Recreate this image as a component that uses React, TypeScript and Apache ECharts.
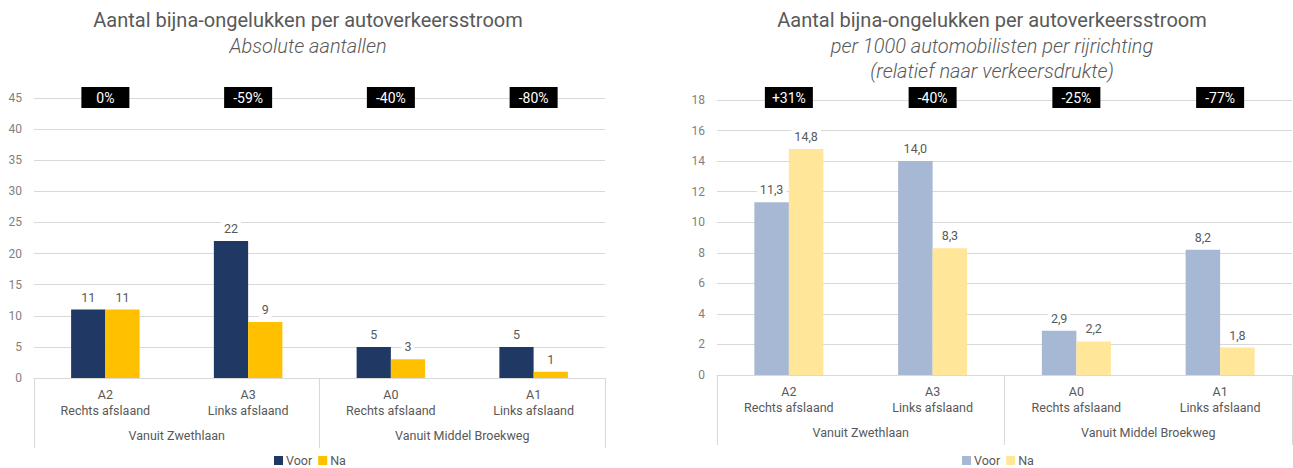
import React, { useEffect, useRef } from "react";
import * as echarts from "echarts";

const categories = [
  "A2\nRechts afslaand",
  "A3\nLinks afslaand",
  "A0\nRechts afslaand",
  "A1\nLinks afslaand",
];
const groups = ["Vanuit Zwethlaan", "Vanuit Middel Broekweg"];
const seriesNames = ["Voor", "Na"];

const absVoor = [11, 22, 5, 5];
const absNa = [11, 9, 3, 1];
const absChange = ["0%", "-59%", "-40%", "-80%"];

const relVoor = [11.3, 14.0, 2.9, 8.2];
const relNa = [14.8, 8.3, 2.2, 1.8];
const relChange = ["+31%", "-40%", "-25%", "-77%"];

const FONT = "Roboto, 'DejaVu Sans', sans-serif";
const TXT = "#595959";
const GRID = "#d9d9d9";

type Cfg = {
  title: string;
  subtitle: string;
  titleX: number;
  voor: number[];
  na: number[];
  colors: string[];
  change: string[];
  yMax: number;
  yInterval: number;
  grid: { left: number; right: number; top: number; bottom: number };
  decimals: boolean;
  legendLeft: number;
  boxMargin: number;
};

function buildOption(c: Cfg): any {
  const fmt = (p: any) =>
    c.decimals ? Number(p.value).toFixed(1).replace(".", ",") : String(p.value);
  const mkSeries = (name: string, data: number[], color: string) => ({
    name,
    type: "bar",
    data,
    xAxisIndex: 0,
    yAxisIndex: 0,
    barGap: "0%",
    barCategoryGap: "52%",
    itemStyle: { color },
    label: {
      show: true,
      position: "top",
      distance: 5,
      formatter: fmt,
      color: TXT,
      fontSize: 12.5,
      fontFamily: FONT,
      backgroundColor: "#ffffff",
      padding: [1, 3],
    },
  });
  return {
    animation: false,
    textStyle: { fontFamily: FONT },
    title: [
      {
        text: c.title,
        left: c.titleX,
        textAlign: "center",
        top: 10,
        padding: 0,
        textStyle: { fontSize: 20, color: TXT, fontWeight: "normal", fontFamily: FONT },
      },
      {
        text: c.subtitle,
        left: c.titleX,
        textAlign: "center",
        top: 33,
        padding: 0,
        textStyle: {
          fontSize: 20,
          color: TXT,
          fontWeight: 300,
          fontStyle: "italic",
          fontFamily: FONT,
          lineHeight: 25,
        },
      },
    ],
    legend: {
      data: seriesNames,
      left: c.legendLeft,
      top: 454,
      padding: 0,
      icon: "rect",
      itemWidth: 9,
      itemHeight: 9,
      itemGap: 6,
      textStyle: { color: TXT, fontSize: 12.5, fontFamily: FONT, padding: [0, 0, 0, -2] },
    },
    grid: { ...c.grid },
    xAxis: [
      {
        type: "category",
        data: categories,
        position: "bottom",
        axisLine: { show: true, lineStyle: { color: GRID, width: 1 } },
        axisTick: { show: false },
        axisLabel: {
          interval: 0,
          color: TXT,
          fontSize: 12.5,
          lineHeight: 16,
          margin: 8,
          fontFamily: FONT,
        },
      },
      {
        type: "category",
        data: groups,
        position: "bottom",
        axisLine: { show: false },
        axisTick: { show: true, length: 70, lineStyle: { color: GRID, width: 1 } },
        axisLabel: {
          interval: 0,
          color: TXT,
          fontSize: 12.5,
          margin: 51,
          fontFamily: FONT,
        },
      },
      {
        type: "category",
        data: c.change,
        position: "top",
        axisLine: { show: false },
        axisTick: { show: false },
        axisLabel: {
          interval: 0,
          color: "#ffffff",
          backgroundColor: "#000000",
          fontSize: 14,
          lineHeight: 15,
          width: 32,
          align: "center",
          verticalAlign: "middle",
          padding: [3, 8],
          margin: c.boxMargin,
          fontFamily: FONT,
        },
      },
    ],
    yAxis: {
      type: "value",
      min: 0,
      max: c.yMax,
      interval: c.yInterval,
      axisLine: { show: false },
      axisTick: { show: false },
      splitLine: { show: true, lineStyle: { color: GRID, width: 1 } },
      axisLabel: { color: "#7f7f7f", fontSize: 12, margin: 12, fontFamily: FONT },
    },
    series: [
      mkSeries(seriesNames[0], c.voor, c.colors[0]),
      mkSeries(seriesNames[1], c.na, c.colors[1]),
    ],
  };
}

function Chart({ cfg, style }: { cfg: Cfg; style: React.CSSProperties }) {
  const ref = useRef<HTMLDivElement>(null);
  useEffect(() => {
    if (!ref.current) return;
    const chart = echarts.init(ref.current, undefined, { renderer: "svg" });
    chart.setOption(buildOption(cfg));
    return () => chart.dispose();
  }, []);
  return <div ref={ref} style={style} />;
}

const leftCfg: Cfg = {
  title: "Aantal bijna-ongelukken per autoverkeersstroom",
  subtitle: "Absolute aantallen",
  titleX: 308,
  voor: absVoor,
  na: absNa,
  colors: ["#203864", "#FFC000"],
  change: absChange,
  yMax: 45,
  yInterval: 5,
  grid: { left: 34, right: 41, top: 98, bottom: 90 },
  decimals: false,
  legendLeft: 274,
  boxMargin: 0.5,
};

const rightCfg: Cfg = {
  title: "Aantal bijna-ongelukken per autoverkeersstroom",
  subtitle: "per 1000 automobilisten per rijrichting\n(relatief naar verkeersdrukte)",
  titleX: 346,
  voor: relVoor,
  na: relNa,
  colors: ["#A6B8D3", "#FFE699"],
  change: relChange,
  yMax: 18,
  yInterval: 2,
  grid: { left: 71, right: 1, top: 100, bottom: 93 },
  decimals: true,
  legendLeft: 316,
  boxMargin: 2.5,
};

export default function App() {
  useEffect(() => {
    document.body.style.margin = "0";
  }, []);
  return (
    <div style={{ position: "fixed", left: 0, top: 0, width: 1293, height: 468, background: "#fff" }}>
      <Chart cfg={leftCfg} style={{ position: "absolute", left: 0, top: 0, width: 646, height: 468 }} />
      <Chart cfg={rightCfg} style={{ position: "absolute", left: 646, top: 0, width: 647, height: 468 }} />
    </div>
  );
}
